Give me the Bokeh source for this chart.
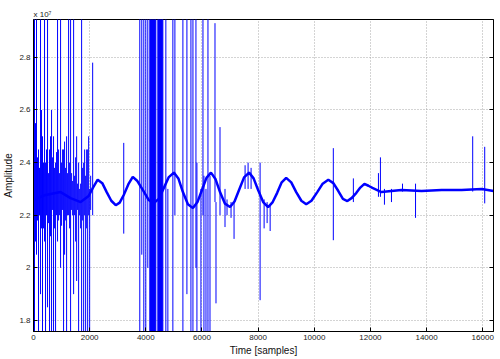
from bokeh.plotting import figure
from bokeh.models import FixedTicker, Range1d, LinearAxis
from bokeh.embed import file_html
from bokeh.resources import INLINE

# ---- data (amplitude in units of 1e7) ----
base_x = [0, 429, 964, 1321, 1679, 1964, 2120, 2286, 2450, 2607, 2770, 2929, 3070, 3214, 3380,
          3536, 3700, 3893, 4100, 4286, 4460, 4643, 4820, 5000, 5160, 5321, 5500, 5679, 5840,
          6000, 6160, 6321, 6480, 6643, 6820, 7000, 7160, 7321, 7500, 7679, 7840, 8000, 8180,
          8357, 8520, 8679, 8840, 9000, 9180, 9357, 9540, 9714, 9900, 10107, 10300, 10500,
          10680, 10857, 11020, 11179, 11340, 11500, 11640, 11786, 11930, 12071, 12393, 13107,
          13821, 14536, 15250, 15964, 16384]
base_y = [2.258, 2.277, 2.288, 2.265, 2.250, 2.273, 2.305, 2.335, 2.322, 2.288, 2.255, 2.238,
          2.248, 2.277, 2.318, 2.346, 2.330, 2.296, 2.258, 2.246, 2.262, 2.304, 2.345, 2.362,
          2.340, 2.288, 2.242, 2.227, 2.250, 2.296, 2.342, 2.362, 2.338, 2.288, 2.244, 2.231,
          2.252, 2.296, 2.344, 2.362, 2.340, 2.296, 2.250, 2.231, 2.250, 2.285, 2.325, 2.342,
          2.325, 2.288, 2.255, 2.242, 2.255, 2.288, 2.320, 2.335, 2.322, 2.292, 2.262, 2.254,
          2.266, 2.285, 2.305, 2.319, 2.312, 2.304, 2.288, 2.296, 2.292, 2.296, 2.296, 2.300,
          2.292]

spike_x = [36, 71, 107, 143, 179, 214, 250, 286, 321, 357, 393, 429, 464, 500, 536, 571, 607,
           643, 679, 714, 750, 786, 821, 857, 893, 929, 964, 1000, 1036, 1071, 1107, 1143,
           1179, 1214, 1250, 1286, 1321, 1357, 1393, 1429, 1464, 1500, 1536, 1571, 1607, 1643,
           1679, 1714, 1750, 1786, 1821, 1857, 1893, 1929, 1964, 2000, 2036, 2107,
           3214, 3786, 3857, 3929, 4000, 4071, 4714, 4786, 4964, 5036, 5321, 5464, 5607, 5679,
           5786, 5821, 5964, 6036, 6071, 6143, 6214, 6286, 6464, 6500, 6643, 6821, 6893, 7036,
           7143, 7536, 7643, 7750, 8071, 8214, 8321, 8429,
           10679, 11393, 12286, 12357, 12500, 12750, 13143, 13607, 15643, 16071]
spike_low = [1.5, 2.10, 2.05, 2.18, 1.5, 2.20, 1.9, 2.15, 1.5, 2.15, 2.1, 1.5, 2.20, 1.85, 2.17,
             1.5, 2.12, 1.5, 2.22, 1.5, 2.15, 1.5, 2.20, 2.1, 2.18, 2.20, 2.0, 2.16, 2.22, 1.5,
             2.05, 2.18, 1.75, 2.20, 2.2, 2.15, 1.5, 2.22, 2.20, 1.9, 2.20, 2.10, 1.95, 2.22, 1.6,
             2.20, 2.15, 1.5, 2.18, 1.5, 2.20, 1.5, 2.15, 1.5, 2.20, 1.5, 2.22, 2.2,
             2.13, 1.5, 2.05, 1.5, 1.5, 2.0, 1.5, 1.5, 1.5, 2.2, 1.5, 1.9, 1.5, 1.5,
             2.0, 1.5, 1.5, 2.2, 1.5, 1.5, 1.5, 1.5, 2.25, 1.865, 2.2, 2.155, 2.20, 2.19,
             2.11, 2.30, 2.30, 2.30, 1.877, 2.15, 2.17, 2.14,
             2.105, 2.25, 2.27, 2.27, 2.24, 2.25, 2.29, 2.19, 2.29, 2.245]
spike_high = [3.2, 2.55, 3.2, 2.42, 2.45, 2.38, 3.2, 2.60, 2.5, 2.40, 3.2, 2.4, 2.45, 3.2, 2.36,
              2.45, 2.50, 2.6, 2.42, 2.5, 2.38, 2.4, 2.44, 3.2, 2.45, 2.36, 3.2, 2.40, 2.45, 2.45,
              2.48, 2.38, 2.5, 2.36, 3.2, 2.40, 3.2, 2.36, 2.33, 3.2, 2.35, 2.42, 2.5, 2.32, 2.4,
              2.30, 2.32, 3.2, 2.38, 2.4, 2.45, 2.35, 2.45, 2.45, 2.50, 2.3, 2.35, 2.78,
              2.475, 3.2, 3.2, 3.2, 3.2, 3.2, 3.2, 2.3, 3.2, 3.2, 3.2, 3.2, 3.2, 3.2,
              3.2, 2.4, 2.3, 3.2, 2.35, 2.3, 3.2, 2.35, 2.93, 2.25, 2.535, 2.30, 2.26, 2.25,
              2.25, 2.39, 2.40, 2.38, 2.40, 2.26, 2.25, 2.24,
              2.455, 2.34, 2.36, 2.42, 2.30, 2.30, 2.32, 2.32, 2.50, 2.46]

band_start = [4143, 4429]
band_end = [4357, 4607]

x_ticks = [0, 2000, 4000, 6000, 8000, 10000, 12000, 14000, 16000]
y_ticks = [1.8, 2.0, 2.2, 2.4, 2.6, 2.8]
y_tick_labels = ["1.8", "2", "2.2", "2.4", "2.6", "2.8"]

FONT = "Liberation Sans"
BLUE = "#0000ff"

p = figure(width=497, height=358, output_backend="svg", toolbar_location=None,
           x_range=Range1d(0, 16384), y_range=Range1d(1.758, 2.944),
           min_border_left=33, min_border_right=4, min_border_top=19, min_border_bottom=27)
p.background_fill_color = "white"
p.border_fill_color = "white"
p.outline_line_color = "black"
p.outline_line_width = 1

p.title.text = "x 10\u2077"
p.title.align = "left"
p.title.text_font = FONT
p.title.text_font_size = "8px"
p.title.text_font_style = "normal"
p.title.text_color = "#222222"
p.title.standoff = 2

p.quad(left=band_start, right=band_end, bottom=1.5, top=3.2,
       fill_color=BLUE, line_color=BLUE, line_width=1)
p.segment(x0=spike_x, y0=spike_low, x1=spike_x, y1=spike_high,
          line_color=BLUE, line_width=1)
p.line(base_x, base_y, line_color=BLUE, line_width=2.5)

bottom_ax = p.below[0]
left_ax = p.left[0]

right_ax = LinearAxis(ticker=FixedTicker(ticks=y_ticks))
p.add_layout(right_ax, "right")

bottom_ax.ticker = FixedTicker(ticks=x_ticks)
left_ax.ticker = FixedTicker(ticks=y_ticks)
left_ax.major_label_overrides = {t: l for t, l in zip(y_ticks, y_tick_labels)}

for ax in (bottom_ax, left_ax, right_ax):
    ax.major_tick_in = 4
    ax.major_tick_out = 0
    ax.minor_tick_line_color = None
    ax.axis_line_color = "black"
    ax.major_tick_line_color = "black"
    ax.major_label_text_font = FONT
    ax.major_label_text_font_size = "8px"
    ax.major_label_text_color = "#222222"
    ax.axis_label_text_font = FONT
    ax.axis_label_text_font_size = "10px"
    ax.axis_label_text_font_style = "normal"
    ax.axis_label_text_color = "#111111"
    ax.major_label_standoff = 3
    ax.axis_label_standoff = 2

right_ax.major_label_text_font_size = "0px"
right_ax.major_label_standoff = 0
right_ax.major_label_text_alpha = 0

bottom_ax.axis_label = "Time [samples]"
left_ax.axis_label = "Amplitude"

p.grid.grid_line_color = "#a8a8a8"
p.grid.grid_line_dash = "1 2"
p.grid.grid_line_width = 1

open("out.html", "w").write(file_html(p, INLINE))
